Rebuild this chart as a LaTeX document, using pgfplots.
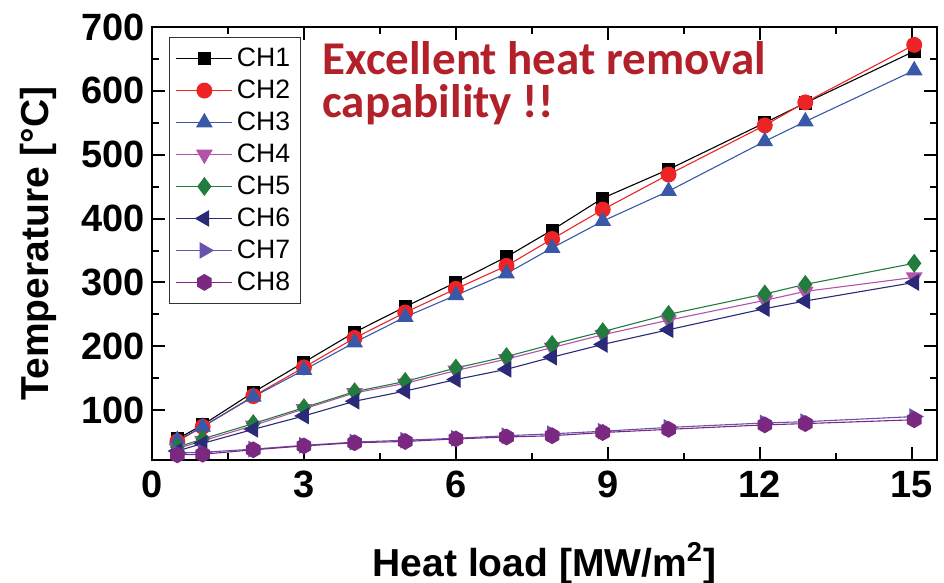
\documentclass[border=0pt]{standalone}
\usepackage{fontspec}
\usepackage{pgfplots}
\pgfplotsset{compat=1.18}
\setmainfont{Liberation Sans}
\newfontfamily\calibri{Carlito}

\definecolor{cha}{RGB}{0,0,0}
\definecolor{chb}{RGB}{236,36,38}
\definecolor{chc}{RGB}{58,88,168}
\definecolor{chd}{RGB}{178,82,168}
\definecolor{che}{RGB}{34,124,62}
\definecolor{chf}{RGB}{42,42,120}
\definecolor{chg}{RGB}{104,82,170}
\definecolor{chh}{RGB}{122,40,128}
\definecolor{note}{RGB}{178,32,42}

\pgfdeclareplotmark{hexagon*}{%
  \pgfpathmoveto{\pgfpointpolar{90}{\pgfplotmarksize}}%
  \pgfpathlineto{\pgfpointpolar{150}{\pgfplotmarksize}}%
  \pgfpathlineto{\pgfpointpolar{210}{\pgfplotmarksize}}%
  \pgfpathlineto{\pgfpointpolar{270}{\pgfplotmarksize}}%
  \pgfpathlineto{\pgfpointpolar{330}{\pgfplotmarksize}}%
  \pgfpathlineto{\pgfpointpolar{30}{\pgfplotmarksize}}%
  \pgfpathclose\pgfusepathqfillstroke}

\begin{document}
\begin{tikzpicture}
\useasboundingbox (-76pt,-61.5pt) rectangle (396pt,230pt);
\begin{axis}[
    at={(0,0)}, anchor=south west,
    scale only axis,
    width=392.5pt, height=216.5pt,
    xmin=0, xmax=15.5,
    ymin=22, ymax=700,
    xtick={0,3,...,15},
    ytick={100,200,...,700},
    minor x tick num=1,
    minor y tick num=1,
    tick align=inside,
    major tick length=6.5pt,
    minor tick length=3.5pt,
    every tick/.style={black, line width=1pt},
    axis line style={line width=1.3pt},
    /pgf/number format/assume math mode=true,
    ticklabel style={font=\fontsize{19}{20}\selectfont\bfseries},
    xticklabel style={yshift=-2pt},
    xlabel={Heat load [MW/m\textsuperscript{2}]},
    ylabel={Temperature [°C]},
    label style={font=\fontsize{19.5}{21}\selectfont\bfseries},
    xlabel style={at={(axis description cs:0.5,-0.238)}, anchor=center},
    ylabel style={at={(axis description cs:-0.145,0.5)}, anchor=center},
    legend cell align=left,
    legend style={at={(axis cs:0.34,684)}, anchor=north west,
      font=\fontsize{13.3}{14}\selectfont, draw=black!80, line width=0.6pt,
      inner xsep=3pt, inner ysep=3pt, row sep=1.2pt},
    legend image code/.code={%
      \draw[mark repeat=2, mark phase=2] plot coordinates {(0pt,0pt) (14pt,0pt) (28pt,0pt)};},
    every axis plot/.append style={line width=0.55pt, mark size=3.4pt},
]
\addplot[cha, mark=square*, mark options={fill=cha}, mark size=3pt] coordinates {
(0.5,55) (1,77) (2,128) (3,175) (4,222) (5,262) (6,300) (7,340) (7.9,382) (8.9,432) (10.2,477) (12.1,550) (12.9,581) (15.05,662)};
\addlegendentry{CH1}
\addplot[chb, mark=*, mark options={fill=chb}, mark size=3.7pt] coordinates {
(0.5,51) (1,74) (2,122) (3,167) (4,213) (5,253) (6,290) (7,326) (7.9,368) (8.9,414) (10.2,469) (12.1,546) (12.9,582) (15.05,672)};
\addlegendentry{CH2}
\addplot[chc, mark=triangle*, mark options={fill=chc}, mark size=4.3pt] coordinates {
(0.5,53) (1,74) (2,121) (3,163) (4,206) (5,246) (6,280) (7,314) (7.9,354) (8.9,396) (10.2,443) (12.1,521) (12.9,552) (15.05,632)};
\addlegendentry{CH3}
\addplot[chd, mark=triangle*, mark options={fill=chd, rotate=180}, mark size=4.3pt] coordinates {
(0.5,40) (1,52) (2,76) (3,102) (4,127) (5,142) (6,162) (7,180) (7.9,198) (8.9,218) (10.2,241) (12.1,272) (12.9,286) (15.05,308)};
\addlegendentry{CH4}
\addplot[che, mark=diamond*, mark options={fill=che}, mark size=4.3pt] coordinates {
(0.5,42) (1,55) (2,79) (3,104) (4,129) (5,145) (6,166) (7,184) (7.9,203) (8.9,223) (10.2,250) (12.1,282) (12.9,297) (15.05,330)};
\addlegendentry{CH5}
\addplot[chf, mark=triangle*, mark options={fill=chf, rotate=90}, mark size=4.3pt] coordinates {
(0.5,36) (1,48) (2,70) (3,91) (4,114) (5,130) (6,148) (7,164) (7.9,183) (8.9,203) (10.2,226) (12.1,259) (12.9,271) (15.05,300)};
\addlegendentry{CH6}
\addplot[chg, mark=triangle*, mark options={fill=chg, rotate=-90}, mark size=4.3pt] coordinates {
(0.5,33) (1,34) (2,39) (3,45) (4,50) (5,53) (6,56) (7,60) (7.9,63) (8.9,67) (10.2,73) (12.1,80) (12.9,82) (15.05,90)};
\addlegendentry{CH7}
\addplot[chh, mark=hexagon*, mark options={fill=chh}, mark size=3.9pt] coordinates {
(0.5,30) (1,31) (2,38) (3,44) (4,49) (5,51) (6,55) (7,58) (7.9,60) (8.9,65) (10.2,70) (12.1,77) (12.9,79) (15.05,85)};
\addlegendentry{CH8}
\node[anchor=base west, align=left, text=note, inner sep=0pt,
  font=\calibri\bfseries\fontsize{23.5}{21.5}\selectfont]
  at (axis cs:3.36,558) {Excellent heat removal\\capability !!};
\end{axis}
\end{tikzpicture}
\end{document}
